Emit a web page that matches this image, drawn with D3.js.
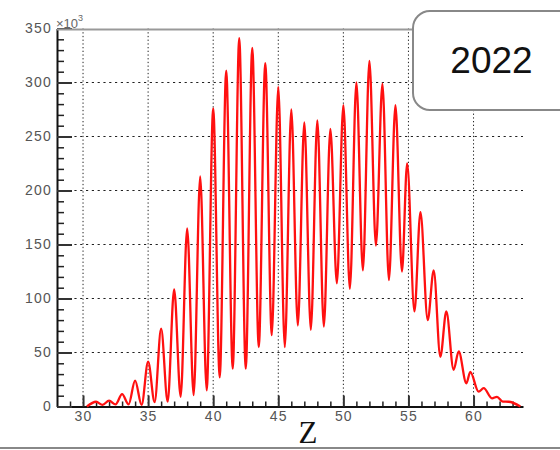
<!DOCTYPE html>
<html>
<head>
<meta charset="utf-8">
<script src="https://cdn.jsdelivr.net/npm/d3@7"></script>
<style>
  html, body { margin: 0; padding: 0; background: #fff; }
  svg { display: block; }
</style>
</head>
<body>
<script>
// ---- data ----
const zValues = [30.3, 31, 31.5, 32, 32.5, 33, 33.5, 34, 34.5, 35, 35.5, 36, 36.5, 37, 37.5, 38, 38.5, 39, 39.5, 40,
  40.5, 41, 41.5, 42, 42.5, 43, 43.5, 44, 44.5, 45, 45.5, 46, 46.5, 47, 47.5, 48, 48.5, 49, 49.5, 50,
  50.5, 51, 51.5, 52, 52.5, 53, 53.5, 54, 54.5, 54.9, 55.46, 55.92, 56.48, 56.94, 57.45, 57.91, 58.47, 58.86, 59.45, 59.75,
  60.39, 60.78, 61.42, 61.8, 62.25, 62.69, 63.6];
const counts = [0, 4.4, 1.5, 5.4, 2, 11.5, 2, 24, 1.5, 41.5, 4, 72, 4.5, 108.5, 9, 165, 10.5, 213, 15, 276,
  27, 311, 35, 341, 35, 332, 55, 318, 66, 296, 55, 275, 75, 263, 71, 265, 74, 257, 114, 279,
  109, 300, 126, 320, 149, 299, 117, 279, 125, 225, 88, 180, 80, 126, 46, 88, 34, 51, 21.5, 32,
  13.7, 17, 7.6, 9, 4.5, 4.4, 0];
const xTickValues = [30, 35, 40, 45, 50, 55, 60];
const yTickValues = [0, 50, 100, 150, 200, 250, 300, 350];
const xTickLabels = ["30", "35", "40", "45", "50", "55", "60"];
const yTickLabels = ["0", "50", "100", "150", "200", "250", "300", "350"];
const xTitle = "Z";
const yUnit = "×10";
const yUnitExp = "3";
const legendText = "2022";

// ---- layout ----
const W = 560, H = 450;
const svg = d3.select("body").append("svg").attr("width", W).attr("height", H);
const x = d3.scaleLinear().domain([28, 63.8]).range([57, 523]);
const y = d3.scaleLinear().domain([0, 350]).range([406.5, 28.5]);

// gridlines
const grid = svg.append("g");
grid.selectAll("line.v").data(xTickValues).join("line")
  .attr("x1", d => x(d)).attr("x2", d => x(d))
  .attr("y1", y(350)).attr("y2", y(0))
  .attr("stroke", "#222").attr("stroke-width", 1).attr("stroke-dasharray", "1.3,2.4");
grid.selectAll("line.h").data(yTickValues.filter(v => v > 0 && v < 350)).join("line")
  .attr("x1", x(28)).attr("x2", x(63.8))
  .attr("y1", d => y(d)).attr("y2", d => y(d))
  .attr("stroke", "#222").attr("stroke-width", 1).attr("stroke-dasharray", "2.2,3.6");

// minor ticks
const minorX = d3.range(29, 64, 1).filter(v => v % 5 !== 0);
const minorY = d3.range(10, 350, 10).filter(v => v % 50 !== 0);
svg.append("g").attr("transform", `translate(0,${y(0)})`)
  .call(d3.axisBottom(x).tickValues(minorX).tickSizeInner(-5).tickSizeOuter(0).tickFormat(""))
  .call(g => g.select(".domain").remove())
  .selectAll("line").attr("stroke", "#222").attr("stroke-width", 1.5);
svg.append("g").attr("transform", `translate(${x(28)},0)`)
  .call(d3.axisLeft(y).tickValues(minorY).tickSizeInner(-7).tickSizeOuter(0).tickFormat(""))
  .call(g => g.select(".domain").remove())
  .selectAll("line").attr("stroke", "#222").attr("stroke-width", 1.5);

// major axes
const xAxis = svg.append("g").attr("transform", `translate(0,${y(0)})`)
  .call(d3.axisBottom(x).tickValues(xTickValues).tickSizeInner(-11).tickSizeOuter(0).tickPadding(5)
    .tickFormat((d, i) => xTickLabels[i]));
const yAxis = svg.append("g").attr("transform", `translate(${x(28)},0)`)
  .call(d3.axisLeft(y).tickValues(yTickValues).tickSizeInner(-15).tickSizeOuter(0).tickPadding(5)
    .tickFormat((d, i) => yTickLabels[i]));
[xAxis, yAxis].forEach(a => {
  a.select(".domain").attr("stroke", "#111").attr("stroke-width", 2);
  a.selectAll(".tick line").attr("stroke", "#333").attr("stroke-width", 2);
  a.selectAll("text").attr("fill", "#555").attr("font-family", "Liberation Sans, Arial, sans-serif")
    .attr("font-size", 14).attr("letter-spacing", "1.2px");
});

// top frame
svg.append("line").attr("x1", x(28)).attr("x2", 414).attr("y1", 29.5).attr("y2", 29.5)
  .attr("stroke", "#999").attr("stroke-width", 2.2);

// curve
const pts = zValues.map((z, i) => [z, counts[i]]);
svg.append("path").datum(pts)
  .attr("d", d3.line().x(d => x(d[0])).y(d => y(d[1])).curve(d3.curveMonotoneX))
  .attr("fill", "none").attr("stroke", "#ff1010").attr("stroke-width", 2.3);

// unit label
const u = svg.append("text").attr("x", 56).attr("y", 28)
  .attr("font-family", "Liberation Sans, Arial, sans-serif").attr("font-size", 13).attr("fill", "#666");
u.append("tspan").text(yUnit);
u.append("tspan").attr("dy", -7).attr("font-size", 9).text(yUnitExp);

// x title
svg.append("text").attr("x", 308).attr("y", 443).attr("text-anchor", "middle")
  .attr("font-family", "Liberation Serif, Times New Roman, serif").attr("font-size", 31)
  .attr("fill", "#111").text(xTitle);

// bottom frame line
svg.append("line").attr("x1", 0).attr("x2", W).attr("y1", 448).attr("y2", 448)
  .attr("stroke", "#888").attr("stroke-width", 2);

// legend box
svg.append("rect").attr("x", 413).attr("y", 11).attr("width", 170).attr("height", 99)
  .attr("rx", 17).attr("ry", 17).attr("fill", "#fff").attr("stroke", "#888").attr("stroke-width", 2);
svg.append("text").attr("x", 491.5).attr("y", 73).attr("text-anchor", "middle")
  .attr("font-family", "Liberation Sans, Arial, sans-serif").attr("font-size", 37)
  .attr("fill", "#111").text(legendText);
</script>
</body>
</html>
